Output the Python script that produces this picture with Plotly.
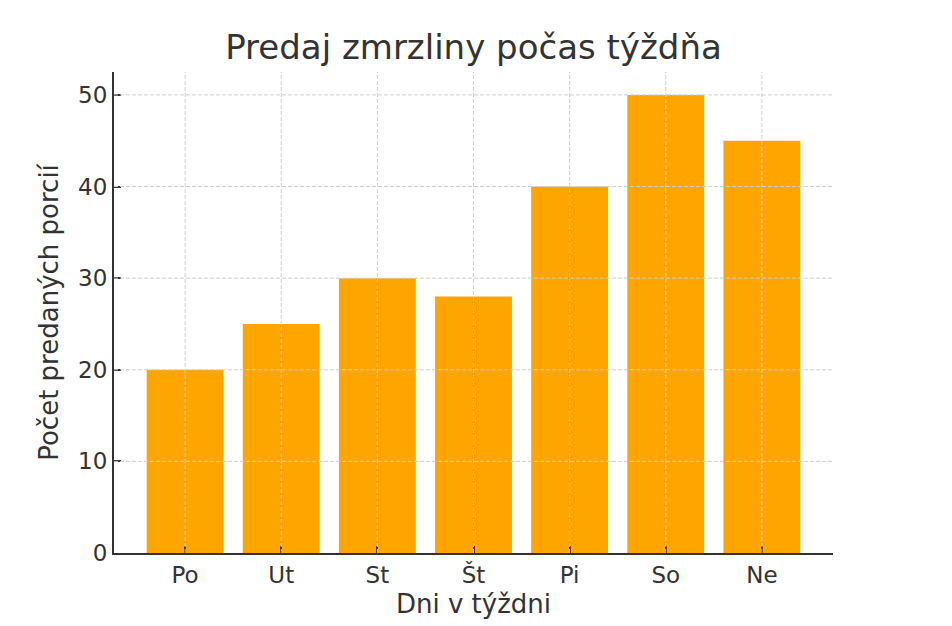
import plotly.graph_objects as go

days = ["Po", "Ut", "St", "Št", "Pi", "So", "Ne"]
sales = [20, 25, 30, 28, 40, 50, 45]
y_ticks = [0, 10, 20, 30, 40, 50]

TEXT = "#333333"
GRID = "#d0d0d0"

fig = go.Figure(go.Bar(x=list(range(len(days))), y=sales, width=0.8,
                       marker=dict(color="#FFA500", line=dict(width=0))))

# matplotlib-style grid drawn over the bars
shapes = []
for v in y_ticks[1:]:
    shapes.append(dict(type="line", xref="paper", x0=0, x1=1, y0=v, y1=v, layer="above",
                       line=dict(color=GRID, width=1, dash="4px,2px")))
for i in range(len(days)):
    shapes.append(dict(type="line", yref="paper", x0=i, x1=i, y0=0, y1=1, layer="above",
                       line=dict(color=GRID, width=1, dash="4px,2px")))

# page body adds an 8px margin, so the figure is sized/offset to compensate
fig.update_layout(
    width=944, height=618,
    margin=dict(l=106, r=119, t=64, b=70),
    plot_bgcolor="white", paper_bgcolor="white",
    font=dict(family="DejaVu Sans", size=22, color=TEXT),
    title=dict(text="Predaj zmrzliny počas týždňa", xref="paper", x=0.5, xanchor="center",
               y=1 - 39 / 618, yanchor="middle", font=dict(size=34, color=TEXT)),
    shapes=shapes,
    showlegend=False,
)
fig.update_xaxes(
    range=[-0.74, 6.74], tickvals=list(range(len(days))), ticktext=days,
    showgrid=False, zeroline=False, showline=True, linecolor=TEXT, linewidth=2,
    ticks="inside", ticklen=7, tickwidth=1.5, tickcolor=TEXT,
    title=dict(text="Dni v týždni", standoff=8), tickfont=dict(size=23),
)
fig.update_yaxes(
    range=[0, 52.5], tickvals=y_ticks,
    showgrid=False, zeroline=False, showline=True, linecolor=TEXT, linewidth=2,
    ticks="inside", ticklen=7, tickwidth=1.5, tickcolor=TEXT,
    title=dict(text="Počet predaných porcií", standoff=12), tickfont=dict(size=23),
)

fig.write_html("out.html")
